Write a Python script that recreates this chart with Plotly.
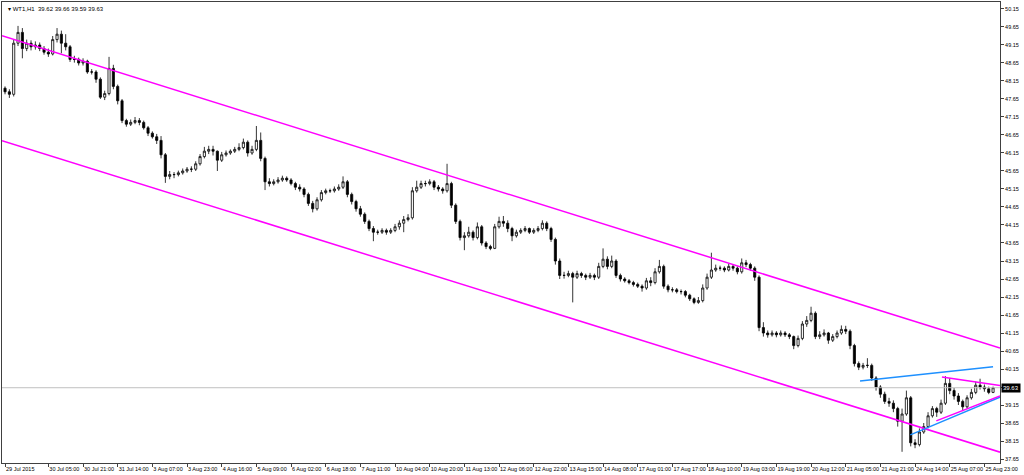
"WTI H1 candlestick chart with channel and trendlines"

import plotly.graph_objects as go

# 2-hour candles (29 Jul - 26 Aug 2015)
opens = [
    47.95, 47.85, 47.78, 49.20, 49.50, 49.05, 49.20, 49.10, 49.15, 49.05,
    48.95, 48.90, 49.30, 49.45, 49.20, 49.10, 48.75, 48.75, 48.65, 48.70,
    48.40, 48.40, 48.20, 47.70, 47.80, 48.50, 48.00, 47.60, 47.05, 46.95,
    47.00, 47.05, 47.00, 46.85, 46.70, 46.60, 46.50, 46.10, 45.50, 45.55,
    45.55, 45.60, 45.65, 45.70, 45.70, 45.85, 46.05, 46.20, 46.25, 46.20,
    45.95, 46.10, 46.15, 46.20, 46.25, 46.30, 46.45, 46.15, 46.25, 46.50,
    46.00, 45.35, 45.30, 45.35, 45.40, 45.45, 45.40, 45.30, 45.20, 45.15,
    45.00, 44.75, 44.60, 44.85, 45.05, 45.10, 45.10, 45.15, 45.20, 45.35,
    45.00, 44.80, 44.60, 44.45, 44.25, 44.05, 43.95, 43.95, 44.00, 43.95,
    44.00, 44.10, 44.20, 44.30, 44.35, 45.10, 45.20, 45.30, 45.30, 45.35,
    45.20, 45.15, 45.10, 45.30, 44.70, 44.25, 43.80, 43.85, 43.95, 43.80,
    44.10, 43.65, 43.55, 43.50, 44.10, 44.25, 44.20, 44.05, 43.85, 43.95,
    44.00, 44.05, 43.95, 44.00, 44.05, 44.20, 44.05, 43.75, 43.15, 42.75,
    42.75, 42.80, 42.70, 42.80, 42.75, 42.70, 42.75, 42.70, 43.00, 43.20,
    43.00, 43.15, 42.75, 42.65, 42.60, 42.55, 42.50, 42.45, 42.40, 42.60,
    42.55, 42.85, 43.00, 42.45, 42.35, 42.35, 42.30, 42.30, 42.20, 42.10,
    42.00, 42.05, 42.40, 42.70, 42.90, 42.95, 42.95, 42.90, 43.00, 42.95,
    42.85, 43.10, 43.05, 42.95, 42.70, 41.30, 41.15, 41.10, 41.15, 41.10,
    41.15, 41.10, 41.05, 40.80, 41.00, 41.40, 41.50, 41.70, 41.05, 41.10,
    41.15, 40.95, 41.05, 41.15, 41.25, 41.20, 40.80, 40.30, 40.20, 40.25,
    40.25, 39.90, 39.65, 39.45, 39.25, 39.20, 39.05, 38.70, 38.90, 39.35,
    38.10, 38.05, 38.40, 38.55, 38.85, 39.05, 38.95, 39.20, 39.75, 39.55,
    39.40, 39.25, 39.10, 39.35, 39.50, 39.70, 39.65, 39.60, 39.50,
]
highs = [
    48.00, 47.92, 49.30, 49.68, 49.62, 49.30, 49.28, 49.25, 49.22, 49.12,
    49.05, 49.40, 49.62, 49.55, 49.45, 49.15, 48.85, 48.80, 48.78, 48.74,
    48.48, 48.45, 48.25, 47.88, 48.82, 48.60, 48.05, 47.65, 47.10, 47.08,
    47.15, 47.12, 47.05, 46.90, 46.75, 46.68, 46.62, 46.15, 45.65, 45.62,
    45.66, 45.72, 45.76, 45.78, 45.92, 46.12, 46.32, 46.35, 46.35, 46.22,
    46.18, 46.22, 46.25, 46.32, 46.42, 46.55, 46.50, 46.35, 46.90, 46.72,
    46.05, 45.45, 45.42, 45.48, 45.52, 45.50, 45.45, 45.35, 45.28, 45.20,
    45.05, 44.82, 44.92, 45.12, 45.16, 45.16, 45.22, 45.28, 45.50, 45.40,
    45.05, 44.85, 44.68, 44.50, 44.30, 44.12, 44.02, 44.06, 44.05, 44.06,
    44.18, 44.28, 44.40, 44.45, 45.20, 45.38, 45.38, 45.38, 45.42, 45.40,
    45.26, 45.20, 45.85, 45.35, 44.75, 44.30, 43.95, 44.10, 44.00, 44.22,
    44.15, 43.70, 43.60, 44.18, 44.38, 44.40, 44.28, 44.10, 44.02, 44.06,
    44.12, 44.08, 44.06, 44.12, 44.28, 44.25, 44.10, 43.80, 43.22, 42.85,
    42.88, 42.85, 42.88, 42.85, 42.80, 42.82, 42.80, 43.10, 43.50, 43.28,
    43.30, 43.20, 42.80, 42.70, 42.65, 42.60, 42.55, 42.50, 42.68, 42.70,
    42.95, 43.18, 43.05, 42.50, 42.42, 42.40, 42.36, 42.34, 42.24, 42.14,
    42.15, 42.50, 42.80, 43.38, 43.05, 43.02, 43.00, 43.08, 43.05, 43.00,
    43.22, 43.18, 43.10, 43.00, 42.75, 41.45, 41.22, 41.22, 41.20, 41.22,
    41.20, 41.15, 41.08, 41.08, 41.48, 41.62, 41.88, 41.75, 41.20, 41.25,
    41.18, 41.12, 41.22, 41.36, 41.35, 41.25, 40.85, 40.36, 40.32, 40.45,
    40.30, 39.95, 39.70, 39.52, 39.35, 39.28, 39.10, 39.05, 39.55, 39.40,
    38.20, 38.50, 38.65, 38.95, 39.12, 39.10, 39.30, 39.95, 39.90, 39.62,
    39.48, 39.30, 39.42, 39.60, 39.80, 39.88, 39.72, 39.66, 39.66,
]
lows = [
    47.78, 47.68, 47.72, 49.12, 48.78, 48.98, 49.00, 49.02, 48.98, 48.88,
    48.82, 48.86, 49.22, 48.92, 49.00, 48.68, 48.66, 48.58, 48.58, 48.35,
    48.33, 48.10, 47.65, 47.62, 47.75, 47.92, 47.50, 46.98, 46.88, 46.90,
    46.95, 46.92, 46.80, 46.62, 46.55, 46.40, 46.00, 45.32, 45.42, 45.45,
    45.50, 45.55, 45.60, 45.62, 45.65, 45.80, 46.00, 46.12, 46.08, 45.65,
    45.90, 46.05, 46.10, 46.15, 46.20, 46.25, 46.05, 46.10, 46.20, 45.92,
    45.12, 45.22, 45.25, 45.30, 45.35, 45.35, 45.25, 45.12, 45.08, 44.92,
    44.68, 44.50, 44.55, 44.80, 45.00, 45.04, 45.05, 45.10, 45.15, 44.92,
    44.72, 44.52, 44.38, 44.18, 43.98, 43.70, 43.88, 43.90, 43.88, 43.90,
    43.95, 44.02, 43.95, 44.25, 44.30, 45.05, 45.15, 45.22, 45.25, 45.12,
    45.08, 45.02, 45.05, 44.62, 44.18, 43.72, 43.45, 43.80, 43.72, 43.75,
    43.58, 43.48, 43.45, 43.48, 44.05, 44.10, 43.95, 43.70, 43.80, 43.90,
    43.95, 43.90, 43.90, 43.95, 44.00, 43.98, 43.68, 43.05, 42.65, 42.66,
    42.70, 42.00, 42.65, 42.68, 42.62, 42.65, 42.62, 42.65, 42.95, 42.92,
    42.95, 42.68, 42.58, 42.55, 42.50, 42.44, 42.40, 42.30, 42.35, 42.45,
    42.50, 42.80, 42.38, 42.28, 42.28, 42.25, 42.22, 42.14, 42.04, 41.95,
    41.96, 42.00, 42.35, 42.65, 42.85, 42.88, 42.84, 42.86, 42.88, 42.78,
    42.80, 42.98, 42.88, 42.60, 41.20, 41.05, 41.02, 41.05, 41.03, 41.05,
    41.04, 40.98, 40.70, 40.75, 40.95, 41.32, 41.45, 40.98, 40.98, 41.05,
    40.85, 40.90, 41.00, 41.10, 41.12, 40.70, 40.22, 40.12, 40.14, 40.18,
    39.82, 39.55, 39.35, 39.18, 39.10, 38.95, 38.55, 37.85, 38.85, 38.00,
    37.95, 38.00, 38.35, 38.50, 38.80, 38.82, 38.90, 39.15, 39.45, 39.30,
    39.15, 38.98, 39.05, 39.30, 39.45, 39.58, 39.52, 39.45, 39.48,
]
closes = [
    47.85, 47.78, 49.20, 49.50, 49.05, 49.20, 49.10, 49.15, 49.05, 48.95,
    48.90, 49.30, 49.45, 49.20, 49.10, 48.75, 48.75, 48.65, 48.70, 48.40,
    48.40, 48.20, 47.70, 47.80, 48.50, 48.00, 47.60, 47.05, 46.95, 47.00,
    47.05, 47.00, 46.85, 46.70, 46.60, 46.50, 46.10, 45.50, 45.55, 45.55,
    45.60, 45.65, 45.70, 45.70, 45.85, 46.05, 46.20, 46.25, 46.20, 45.95,
    46.10, 46.15, 46.20, 46.25, 46.30, 46.45, 46.15, 46.25, 46.50, 46.00,
    45.35, 45.30, 45.35, 45.40, 45.45, 45.40, 45.30, 45.20, 45.15, 45.00,
    44.75, 44.60, 44.85, 45.05, 45.10, 45.10, 45.15, 45.20, 45.35, 45.00,
    44.80, 44.60, 44.45, 44.25, 44.05, 43.95, 43.95, 44.00, 43.95, 44.00,
    44.10, 44.20, 44.30, 44.35, 45.10, 45.20, 45.30, 45.30, 45.35, 45.20,
    45.15, 45.10, 45.30, 44.70, 44.25, 43.80, 43.85, 43.95, 43.80, 44.10,
    43.65, 43.55, 43.50, 44.10, 44.25, 44.20, 44.05, 43.85, 43.95, 44.00,
    44.05, 43.95, 44.00, 44.05, 44.20, 44.05, 43.75, 43.15, 42.75, 42.75,
    42.80, 42.70, 42.80, 42.75, 42.70, 42.75, 42.70, 43.00, 43.20, 43.00,
    43.15, 42.75, 42.65, 42.60, 42.55, 42.50, 42.45, 42.40, 42.60, 42.55,
    42.85, 43.00, 42.45, 42.35, 42.35, 42.30, 42.30, 42.20, 42.10, 42.00,
    42.05, 42.40, 42.70, 42.90, 42.95, 42.95, 42.90, 43.00, 42.95, 42.85,
    43.10, 43.05, 42.95, 42.70, 41.30, 41.15, 41.10, 41.15, 41.10, 41.15,
    41.10, 41.05, 40.80, 41.00, 41.40, 41.50, 41.70, 41.05, 41.10, 41.15,
    40.95, 41.05, 41.15, 41.25, 41.20, 40.80, 40.30, 40.20, 40.25, 40.25,
    39.90, 39.65, 39.45, 39.25, 39.20, 39.05, 38.70, 38.90, 39.35, 38.10,
    38.05, 38.40, 38.55, 38.85, 39.05, 38.95, 39.20, 39.75, 39.55, 39.40,
    39.25, 39.10, 39.35, 39.50, 39.70, 39.65, 39.60, 39.50, 39.63,
]

x_labels = [
    "29 Jul 2015", "30 Jul 05:00", "30 Jul 21:00", "31 Jul 14:00", "3 Aug 07:00",
    "3 Aug 23:00", "4 Aug 16:00", "5 Aug 09:00", "6 Aug 02:00", "6 Aug 18:00",
    "7 Aug 11:00", "10 Aug 04:00", "10 Aug 20:00", "11 Aug 13:00", "12 Aug 06:00",
    "12 Aug 22:00", "13 Aug 15:00", "14 Aug 08:00", "17 Aug 01:00", "17 Aug 17:00",
    "18 Aug 10:00", "19 Aug 03:00", "19 Aug 19:00", "20 Aug 12:00", "21 Aug 05:00",
    "21 Aug 21:00", "24 Aug 14:00", "25 Aug 07:00", "25 Aug 23:00",
]
y_ticks = [37.65, 38.15, 38.65, 39.15, 39.65, 40.15, 40.65, 41.15, 41.65, 42.15,
           42.65, 43.15, 43.65, 44.15, 44.65, 45.15, 45.65, 46.15, 46.65, 47.15,
           47.65, 48.15, 48.65, 49.15, 49.65, 50.15]

last_price = 39.63
header = "WT1,H1  39.62 39.66 39.59 39.63"

# drawn objects: (x0, y0, x1, y1) in bar index / price
channel_upper = [-0.7, 49.41, 229.6, 40.73]
channel_lower = [-0.7, 46.49, 229.6, 37.84]
blue_upper = [197.3, 39.82, 228.0, 40.21]
blue_lower = [208.9, 38.32, 229.6, 39.37]
wedge_upper = [216.2, 39.93, 229.6, 39.69]
wedge_lower = [214.9, 38.71, 229.6, 39.40]

FONT = "Liberation Sans"
bars = list(range(len(closes)))
tick_pos = [0] + [10 + 8 * k for k in range(len(x_labels) - 1)]
# the 39.65 label sits under the last-price box, so leave it blank
y_text = ["" if abs(v - 39.65) < 1e-9 else f"{v:.2f}" for v in y_ticks]

fig = go.Figure()
fig.add_trace(go.Candlestick(
    x=bars, open=opens, high=highs, low=lows, close=closes,
    increasing=dict(line=dict(color="black", width=0.8), fillcolor="white"),
    decreasing=dict(line=dict(color="black", width=0.8), fillcolor="black"),
    whiskerwidth=0, hoverinfo="skip", showlegend=False,
))

fig.add_hline(y=last_price, line_color="#c0c0c0", line_width=1)

for seg, color in [(channel_upper, "#ff00ff"), (channel_lower, "#ff00ff"),
                   (blue_upper, "#1e90ff"), (blue_lower, "#1e90ff"),
                   (wedge_upper, "#ff00ff"), (wedge_lower, "#ff00ff")]:
    fig.add_shape(type="line", x0=seg[0], y0=seg[1], x1=seg[2], y1=seg[3],
                  xref="x", yref="y", line=dict(color=color, width=1.5))

fig.add_annotation(x=1, xref="paper", y=last_price, yref="y", xanchor="left",
                   xshift=1, text=f"{last_price:.2f}",
                   showarrow=False, bgcolor="black", borderpad=1,
                   font=dict(family=FONT, size=6, color="white"))
fig.add_annotation(x=0.004, xref="paper", y=0.995, yref="paper",
                   xanchor="left", yanchor="top", showarrow=False,
                   text="\u25be " + header,
                   font=dict(family=FONT, size=6, color="black"))

fig.update_layout(
    width=1024, height=475,
    margin=dict(l=2, r=24, t=2, b=12),
    paper_bgcolor="white", plot_bgcolor="white",
    font=dict(family=FONT, size=6, color="black"),
    xaxis=dict(
        range=[-0.7, 229.6], rangeslider=dict(visible=False),
        tickvals=tick_pos, ticktext=x_labels, tickangle=0,
        ticklabelposition="outside right", ticklabeloverflow="allow",
        ticks="outside", ticklen=3, tickcolor="#404040",
        showgrid=False, zeroline=False,
        showline=True, linecolor="#404040", linewidth=1, mirror=True,
        tickfont=dict(family=FONT, size=5.5),
    ),
    yaxis=dict(
        side="right", range=[37.539, 50.344],
        tickvals=y_ticks, ticktext=y_text, tickangle=0,
        ticklabeloverflow="allow",
        ticks="outside", ticklen=3, tickcolor="#404040",
        showgrid=False, zeroline=False,
        showline=True, linecolor="#404040", linewidth=1, mirror=True,
        tickfont=dict(family=FONT, size=5.5),
    ),
)

# page body has a default margin; drop it so the 1024x475 figure fills the window
fig.write_html("out.html", config={"displayModeBar": False},
               post_script="document.body.style.margin = '0';")
